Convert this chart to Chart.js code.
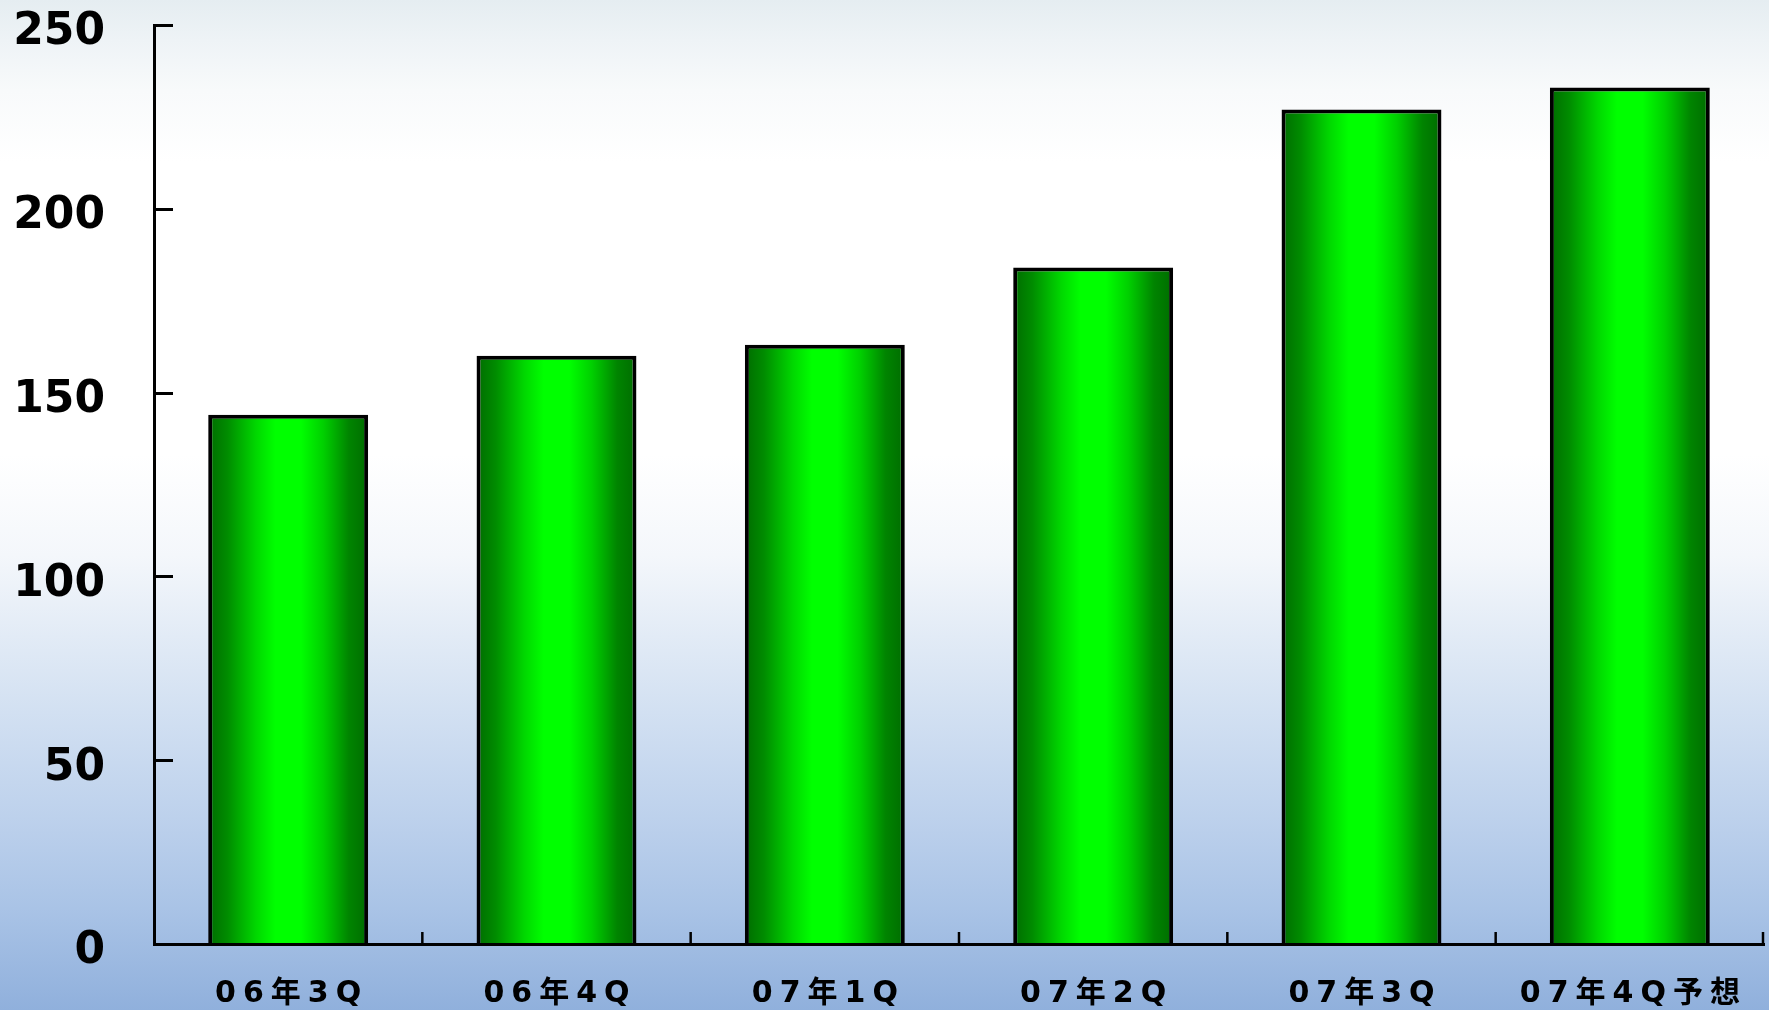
<!DOCTYPE html>
<html>
<head>
<meta charset="utf-8">
<script src="https://cdn.jsdelivr.net/npm/chart.js@4/dist/chart.umd.min.js"></script>
<style>
  html, body { margin: 0; padding: 0; width: 1769px; height: 1010px; overflow: hidden; }
  body {
    background: linear-gradient(to bottom,
      #e5edf1 0%, #eef3f6 4%, #f8fafb 9%, #ffffff 16%, #ffffff 45%,
      #f4f7fb 55%, #e2ebf6 63%, #cfdef1 72%, #bdd1ec 81%, #a9c3e6 90%, #90b0dc 100%);
  }
  #wrap { position: absolute; left: 0; top: 0; width: 1769px; height: 1010px; }
</style>
</head>
<body>
<div id="wrap"><canvas id="c" width="1769" height="1010"></canvas></div>
<script>
const categories = ['06年3Q', '06年4Q', '07年1Q', '07年2Q', '07年3Q', '07年4Q予想'];
const values = [144, 160, 163, 184, 227, 233];
const yTicks = [0, 50, 100, 150, 200, 250];

function barGradient(ctx) {
  const chart = ctx.chart;
  if (!chart.chartArea || ctx.type !== 'data') return '#00e000';
  const xs = chart.scales.x;
  const cx = xs.getPixelForValue(ctx.dataIndex);
  const step = xs.getPixelForValue(1) - xs.getPixelForValue(0);
  const half = step * 0.596 / 2;
  const g = chart.ctx.createLinearGradient(cx - half, 0, cx + half, 0);
  g.addColorStop(0, '#006c00');
  g.addColorStop(0.12, '#008c00');
  g.addColorStop(0.3, '#00d800');
  g.addColorStop(0.42, '#00ff00');
  g.addColorStop(0.58, '#00ff00');
  g.addColorStop(0.72, '#00d000');
  g.addColorStop(0.88, '#008400');
  g.addColorStop(1, '#006c00');
  return g;
}

const innerTicks = {
  id: 'innerTicks',
  afterDraw(chart) {
    const c = chart.ctx;
    const xs = chart.scales.x, ys = chart.scales.y;
    const a = chart.chartArea;
    c.save();
    c.strokeStyle = '#000';
    c.lineWidth = 3;
    yTicks.forEach(v => {
      const y = Math.round(ys.getPixelForValue(v)) + 0.5;
      c.beginPath(); c.moveTo(a.left, y); c.lineTo(a.left + 19, y); c.stroke();
    });
    c.lineWidth = 2.5;
    const step = xs.getPixelForValue(1) - xs.getPixelForValue(0);
    for (let i = 1; i <= categories.length; i++) {
      let x = xs.getPixelForValue(i - 1) + step / 2;
      if (i === categories.length) x = a.right - 1;
      c.beginPath(); c.moveTo(x, a.bottom); c.lineTo(x, a.bottom - 12); c.stroke();
    }
    c.restore();
  }
};

const spacing = {
  id: 'spacing',
  beforeDraw(chart) { chart.ctx.letterSpacing = '0px'; },
  afterDatasetsDraw(chart) { chart.ctx.letterSpacing = '7px'; },
  afterDraw(chart) { chart.ctx.letterSpacing = '0px'; }
};

new Chart(document.getElementById('c'), {
  type: 'bar',
  data: {
    labels: categories,
    datasets: [{
      data: values,
      backgroundColor: barGradient,
      borderColor: '#000',
      borderWidth: 4,
      borderSkipped: 'bottom',
      categoryPercentage: 1,
      barPercentage: 0.596
    }]
  },
  options: {
    responsive: false,
    animation: false,
    events: [],
    layout: { padding: { top: 25, right: 5, left: 0, bottom: 0 } },
    plugins: { legend: { display: false }, tooltip: { enabled: false } },
    scales: {
      x: {
        grid: { display: false, drawTicks: false },
        border: { display: true, color: '#000', width: 3, z: 1 },
        ticks: {
          z: 2,
          color: '#000',
          padding: 32,
          labelOffset: 3.5,
          font: { family: 'DejaVu Sans, "Noto Sans CJK JP"', size: 30, weight: 'bold' }
        },
        afterFit(s) { s.height = 66; s.paddingLeft = 0; s.paddingRight = 0; }
      },
      y: {
        min: 0, max: 250,
        afterBuildTicks(s) { s.ticks = yTicks.map(v => ({ value: v })); },
        grid: { display: false, drawTicks: false },
        border: { display: true, color: '#000', width: 3, z: 1 },
        ticks: {
          z: 0,
          color: '#000',
          padding: 49,
          labelOffset: 8,
          font: { family: 'DejaVu Sans', size: 44, weight: 'bold', lineHeight: 1 }
        },
        afterFit(s) { s.width = 154; s.paddingTop = 0; s.paddingBottom = 0; }
      }
    }
  },
  plugins: [spacing, innerTicks]
});
</script>
</body>
</html>
